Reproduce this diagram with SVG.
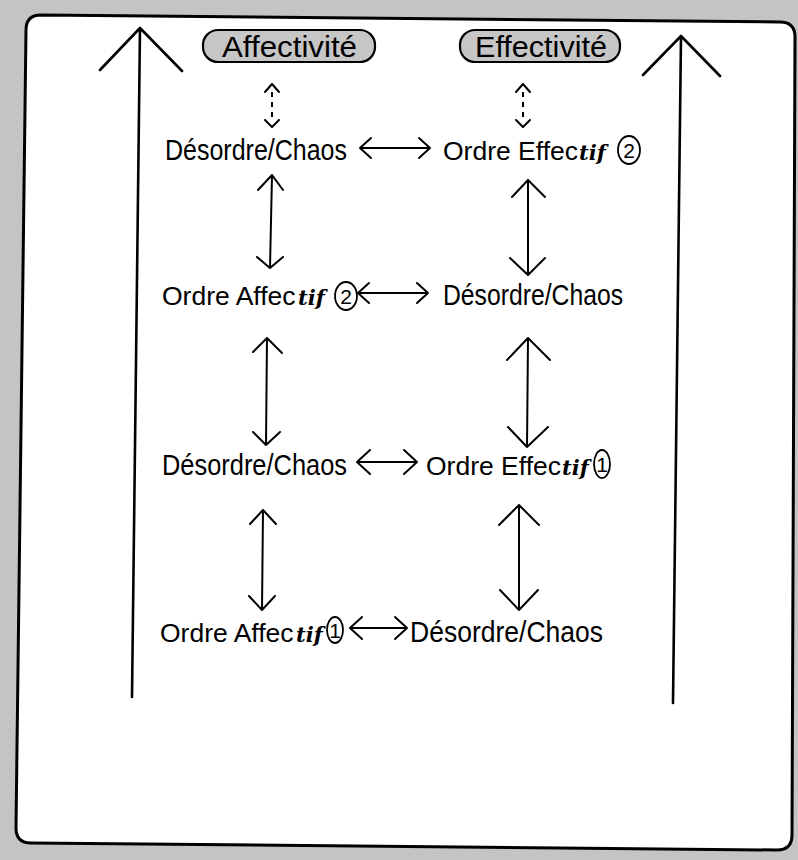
<svg xmlns="http://www.w3.org/2000/svg" width="798" height="860" viewBox="0 0 798 860">
<style>
.t{font-family:"Liberation Sans",Arial,sans-serif;font-size:29px;fill:#000}
.o{font-family:"Liberation Sans",Arial,sans-serif;font-size:26.5px;fill:#000}
.tif{font-family:"DejaVu Serif","Liberation Serif",serif;font-style:italic;font-weight:bold;font-size:21px;fill:#000}
.num{font-family:"Liberation Sans",Arial,sans-serif;font-size:21px;fill:#000;text-anchor:middle}
.ln{fill:none;stroke:#000;stroke-width:2;stroke-linecap:round;stroke-linejoin:round}
.main{fill:none;stroke:#000;stroke-width:2.6;stroke-linecap:round;stroke-linejoin:round}
.dash{fill:none;stroke:#000;stroke-width:2;stroke-dasharray:5 5}
.circ{fill:none;stroke:#000;stroke-width:1.8}
.pill{fill:#c6c6c6;stroke:#000;stroke-width:2.2}
</style>
<rect x="0" y="0" width="798" height="860" fill="#c4c4c4"/>
<path d="M41,15 L780,22 Q795,22 795,37 L792,835 Q792,850 777,850 L31,843 Q16,843 16,828 L26,30 Q26,15 41,15 Z" fill="#fff" stroke="#000" stroke-width="3"/>

<g id="connectors">
  <path class="main" d="M140,28 L132,697 M100,70 L140,28 L182,71"/>
  <path class="main" d="M681,36 L673,703 M643,75 L681,36 L720,76"/>
  <path class="dash" d="M272,92 L272,120"/>
  <path class="ln" d="M265,92 L272,84 L279,92 M265,120 L272,127 L279,120"/>
  <path class="dash" d="M523,92 L523,120"/>
  <path class="ln" d="M516,92 L523,84 L530,92 M516,120 L523,127 L530,120"/>
  <path class="ln" d="M272,175 L270,268 M258,190 L272,175 L283,190 M257,257 L270,268 L283,257"/>
  <path class="ln" d="M528,180 L528,275 M512,197 L528,180 L545,197 M510,258 L528,275 L545,258"/>
  <path class="ln" d="M267,338 L266,445 M253,352 L267,338 L282,353 M253,432 L266,445 L280,432"/>
  <path class="ln" d="M528,338 L527,447 M507,360 L528,338 L550,360 M508,427 L527,447 L548,427"/>
  <path class="ln" d="M263,510 L262,610 M250,524 L263,510 L276,524 M249,596 L262,610 L275,596"/>
  <path class="ln" d="M519,505 L519,610 M499,525 L519,505 L539,525 M500,590 L519,610 L538,590"/>
  <path class="ln" d="M360,148 L430,148 M371,138 L360,148 L371,158 M419,138 L430,148 L419,158"/>
  <path class="ln" d="M358,293 L428,293 M369,283 L358,293 L369,303 M417,283 L428,293 L417,303"/>
  <path class="ln" d="M357,462 L417,462 M370,450 L357,462 L370,474 M404,450 L417,462 L404,474"/>
  <path class="ln" d="M350,628 L407,628 M362,617 L350,628 L362,639 M395,617 L407,628 L395,639"/>
</g>

<g id="n-affectivite">
  <rect class="pill" x="203" y="30" width="172" height="32" rx="15"/>
  <text class="t" x="222" y="57" textLength="135" lengthAdjust="spacingAndGlyphs">Affectivité</text>
</g>
<g id="n-effectivite">
  <rect class="pill" x="460" y="30" width="160" height="32" rx="15"/>
  <text class="t" x="475" y="57" textLength="132" lengthAdjust="spacingAndGlyphs">Effectivité</text>
</g>

<g id="n-r1-chaos">
  <text class="t" x="165" y="160" textLength="182" lengthAdjust="spacingAndGlyphs">Désordre/Chaos</text>
</g>
<g id="n-r1-effectif2">
  <text class="o" x="443" y="160">Ordre Effec</text>
  <text class="tif" x="579" y="160">tif</text>
  <ellipse class="circ" cx="629" cy="150" rx="11" ry="14"/>
  <text class="num" x="629" y="158">2</text>
</g>

<g id="n-r2-affectif2">
  <text class="o" x="162" y="305">Ordre Affec</text>
  <text class="tif" x="298" y="305">tif</text>
  <ellipse class="circ" cx="346" cy="296" rx="11" ry="14"/>
  <text class="num" x="346" y="304">2</text>
</g>
<g id="n-r2-chaos">
  <text class="t" x="443" y="305" textLength="180" lengthAdjust="spacingAndGlyphs">Désordre/Chaos</text>
</g>

<g id="n-r3-chaos">
  <text class="t" x="162" y="475" textLength="185" lengthAdjust="spacingAndGlyphs">Désordre/Chaos</text>
</g>
<g id="n-r3-effectif1">
  <text class="o" x="426" y="475">Ordre Effec</text>
  <text class="tif" x="562" y="475">tif</text>
  <ellipse class="circ" cx="602" cy="464" rx="8" ry="14"/>
  <text class="num" x="602" y="472">1</text>
</g>

<g id="n-r4-affectif1">
  <text class="o" x="160" y="642">Ordre Affec</text>
  <text class="tif" x="296" y="642">tif</text>
  <ellipse class="circ" cx="335" cy="630" rx="8" ry="13"/>
  <text class="num" x="335" y="638">1</text>
</g>
<g id="n-r4-chaos">
  <text class="t" x="410" y="642" textLength="193" lengthAdjust="spacingAndGlyphs">Désordre/Chaos</text>
</g>
</svg>
